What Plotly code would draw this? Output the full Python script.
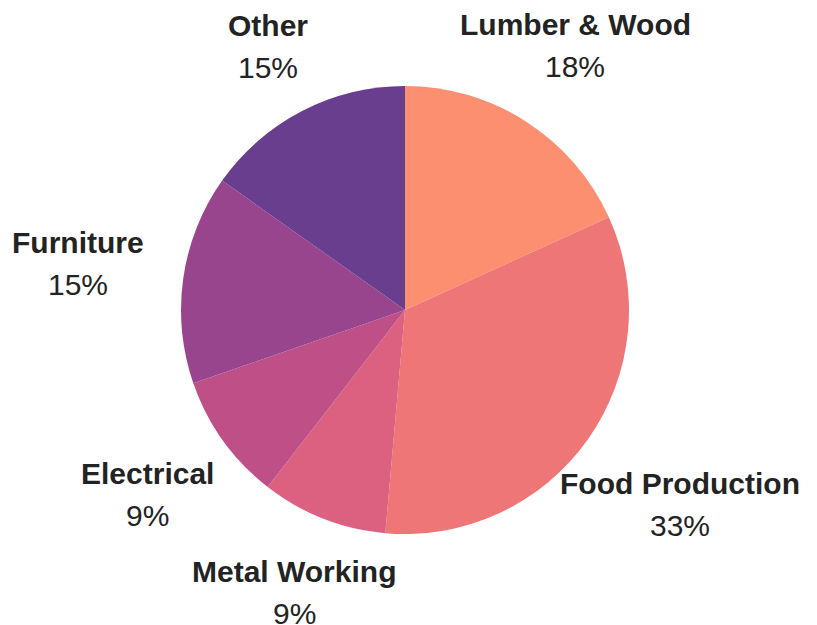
import math
import plotly.graph_objects as go

# ---- data ----
categories = ["Lumber & Wood", "Food Production", "Metal Working", "Electrical", "Furniture", "Other"]
values = [18.2, 33.2, 9.1, 9.2, 15.1, 15.2]

# ---- style ----
colors = ["#FD8F71", "#EF7677", "#DC6080", "#BE5087", "#98458D", "#6A3E8E"]
label_dist = [1.406, 1.504, 1.353, 1.415, 1.473, 1.326]  # label distance in pie radii

W, H = 817, 625
off = 8  # page body margin
cx, cy, r = 405 - off, 310 - off, 224

fig = go.Figure(go.Pie(
    labels=categories,
    values=values,
    sort=False,
    direction="clockwise",
    rotation=0,
    marker=dict(colors=colors, line=dict(width=0)),
    textinfo="none",
    hoverinfo="label+percent",
    domain=dict(x=[(cx - r) / W, (cx + r) / W], y=[(H - cy - r) / H, (H - cy + r) / H]),
))

total = sum(values)
cum = 0
annotations = []
font = dict(family="Liberation Sans, Arial, sans-serif", size=30, color="#232323")
for name, v, d in zip(categories, values, label_dist):
    mid = (cum + v / 2) / total * 2 * math.pi
    cum += v
    px = cx + d * r * math.sin(mid)
    py = cy - d * r * math.cos(mid)
    xp, yp = px / W, 1 - py / H
    pct = f"{round(v / total * 100)}%"
    annotations.append(dict(x=xp, y=yp, xref="paper", yref="paper", text=f"<b>{name}</b>",
                            showarrow=False, xanchor="center", yanchor="middle", yshift=21, font=font))
    annotations.append(dict(x=xp, y=yp, xref="paper", yref="paper", text=pct,
                            showarrow=False, xanchor="center", yanchor="middle", yshift=-21, font=font))

fig.update_layout(
    width=W, height=H,
    margin=dict(l=0, r=0, t=0, b=0),
    paper_bgcolor="white",
    plot_bgcolor="white",
    showlegend=False,
    annotations=annotations,
)

fig.write_html("out.html")
